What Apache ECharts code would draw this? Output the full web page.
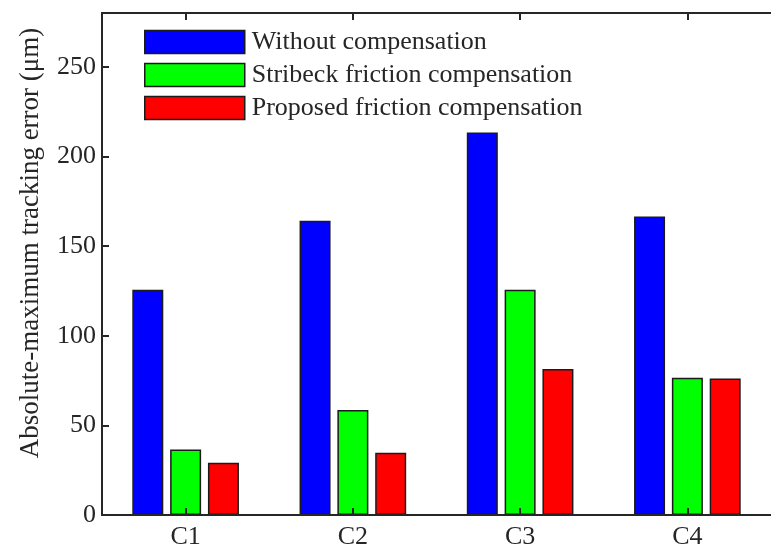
<!DOCTYPE html>
<html>
<head>
<meta charset="utf-8">
<script src="https://cdn.jsdelivr.net/npm/echarts@6/dist/echarts.min.js"></script>
<style>
  html, body { margin: 0; padding: 0; background: #fff; }
  #chart { width: 771px; height: 550px; }
</style>
</head>
<body>
<div id="chart"></div>
<script>
let categories = ['C1', 'C2', 'C3', 'C4'];
let seriesNames = [
  'Without compensation',
  'Stribeck friction compensation',
  'Proposed friction compensation'
];
let withoutComp = [125.7, 164.1, 213.3, 166.5];
let stribeckComp = [36.6, 58.5, 125.7, 76.5];
let proposedComp = [29.2, 34.7, 81.5, 76.1];
let seriesColors = ['#0000ff', '#00ff00', '#ff0000'];

let font = '"Liberation Serif", "Times New Roman", serif';
let ink = '#262626';

let axisLine = { show: true, lineStyle: { color: ink, width: 2 } };
let tick = { show: true, inside: true, length: 7, lineStyle: { color: ink, width: 2 } };

function barSerie(name, data, i) {
  return {
    name: name,
    type: 'bar',
    data: data,
    barWidth: 31,
    barGap: '22%',
    itemStyle: {
      color: seriesColors[i],
      borderColor: '#1a1a1a',
      borderWidth: 1.5
    }
  };
}

let option = {
  backgroundColor: '#fff',
  animation: false,
  grid: {
    left: 102,
    right: -9,
    top: 13,
    bottom: 34
  },
  legend: {
    orient: 'vertical',
    left: 139,
    top: 24,
    itemWidth: 100,
    itemHeight: 23,
    itemGap: 7,
    icon: 'rect',
    itemStyle: { borderColor: '#1a1a1a', borderWidth: 1.5 },
    textStyle: { fontFamily: font, fontSize: 26, color: ink, padding: [0, 0, 0, 2] },
    data: seriesNames
  },
  xAxis: [
    {
      type: 'category',
      data: categories,
      position: 'bottom',
      z: 10,
      axisLine: axisLine,
      axisTick: Object.assign({ alignWithLabel: true }, tick),
      axisLabel: { fontFamily: font, fontSize: 26, color: ink, margin: 9 }
    },
    {
      type: 'category',
      data: categories,
      position: 'top',
      z: 10,
      axisLine: axisLine,
      axisTick: Object.assign({ alignWithLabel: true }, tick),
      axisLabel: { show: false }
    }
  ],
  yAxis: {
    type: 'value',
    min: 0,
    max: 280,
    interval: 50,
    z: 10,
    name: 'Absolute-maximum tracking error (μm)',
    nameLocation: 'center',
    nameGap: 58,
    nameTextStyle: { fontFamily: font, fontSize: 27, color: ink, padding: [0, 0, 0, 42] },
    axisLine: axisLine,
    axisTick: tick,
    splitLine: { show: false },
    axisLabel: {
      fontFamily: font,
      fontSize: 26,
      color: ink,
      margin: 6,
      showMaxLabel: false
    }
  },
  series: [
    barSerie(seriesNames[0], withoutComp, 0),
    barSerie(seriesNames[1], stribeckComp, 1),
    barSerie(seriesNames[2], proposedComp, 2)
  ]
};

let chart = echarts.init(document.getElementById('chart'));
chart.setOption(option);
</script>
</body>
</html>
